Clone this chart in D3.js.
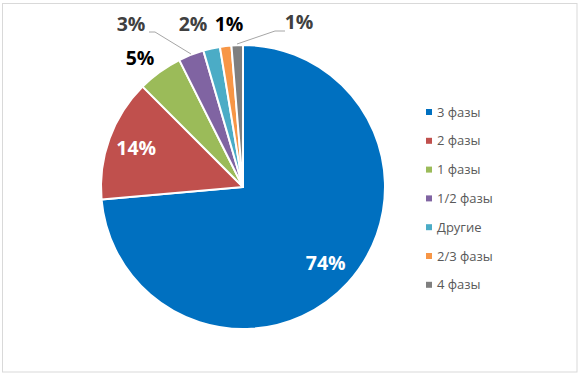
<!DOCTYPE html>
<html>
<head>
<meta charset="utf-8">
<script src="https://cdn.jsdelivr.net/npm/d3@7"></script>
<style>
  body { margin: 0; background: #fff; }
  text { font-family: "Open Sans", "Noto Sans", sans-serif; }
</style>
</head>
<body>
<div class="chart"></div>
<script>
// data
var categories = ["3 фазы", "2 фазы", "1 фазы", "1/2 фазы", "Другие", "2/3 фазы", "4 фазы"];
var values = [73.6, 13.9, 5.1, 2.9, 1.9, 1.3, 1.3];
var colors = ["#0070C0", "#C0504D", "#9BBB59", "#8064A2", "#4BACC6", "#F79646", "#7F7F7F"];

var width = 579, height = 375
    , cx = 243, cy = 187
    , radius = 142;

// where each label sits: inside (white), outside (dark), or moved by hand with a leader
var labelSpec = [
    { mode: "in", r: 0.79 },
    { mode: "in", r: 0.8 },
    { mode: "out", pos: [140, 58], fill: "#000" },
    { mode: "out", pos: [131, 24], fill: "#404040", leader: [[149, 32], [155, 32], [191, 54]] },
    { mode: "out", pos: [193, 24], fill: "#404040" },
    { mode: "out", pos: [229, 24], fill: "#000" },
    { mode: "out", pos: [299, 22], fill: "#404040", leader: [[237, 44], [275, 31], [285, 31]] }
];

var svg = d3.select(".chart").append("svg")
    .attr("width", width)
    .attr("height", height);

svg.append("rect")
    .attr("x", 2.5).attr("y", 3.5)
    .attr("width", 574.5).attr("height", 368.5)
    .attr("fill", "#fff")
    .attr("stroke", "#D9D9D9")
    .attr("stroke-width", 1);

var pie = d3.pie().sort(null).value(d => d);
var arcs = pie(values);

var arc = d3.arc().innerRadius(0).outerRadius(radius);

var g = svg.append("g").attr("transform", `translate(${cx},${cy})`);

g.selectAll("path.slice")
    .data(arcs)
    .enter().append("path")
    .attr("class", "slice")
    .attr("d", arc)
    .attr("fill", (d, i) => colors[i])
    .attr("stroke", "#fff")
    .attr("stroke-width", 2)
    .attr("stroke-linejoin", "round");

// leader lines
svg.selectAll("polyline.leader")
    .data(labelSpec.filter(s => s.leader))
    .enter().append("polyline")
    .attr("class", "leader")
    .attr("points", s => s.leader.map(p => p.join(",")).join(" "))
    .attr("fill", "none")
    .attr("stroke", "#A6A6A6")
    .attr("stroke-width", 1);

svg.selectAll("text.pct")
    .data(arcs)
    .enter().append("text")
    .attr("class", "pct")
    .attr("transform", (d, i) => {
        var s = labelSpec[i];
        if (s.mode === "in") {
            var a = d3.arc().innerRadius(radius * s.r).outerRadius(radius * s.r);
            var c = a.centroid(d);
            return `translate(${cx + c[0]},${cy + c[1]})`;
        }
        return `translate(${s.pos[0]},${s.pos[1]})`;
    })
    .attr("text-anchor", "middle")
    .attr("dy", "0.36em")
    .attr("font-size", 19.5)
    .attr("font-weight", "bold")
    .attr("fill", (d, i) => labelSpec[i].mode === "in" ? "#fff" : labelSpec[i].fill)
    .text(d => Math.round(d.value) + "%");

// legend
var legend = svg.append("g").attr("transform", "translate(426,112)");
var item = legend.selectAll("g")
    .data(categories)
    .enter().append("g")
    .attr("transform", (d, i) => `translate(0,${i * 28.8})`);

item.append("rect")
    .attr("x", 0).attr("y", -3)
    .attr("width", 6).attr("height", 6)
    .attr("fill", (d, i) => colors[i]);

item.append("text")
    .attr("x", 11)
    .attr("dy", "0.35em")
    .attr("font-size", 13)
    .attr("fill", "#595959")
    .text(d => d);
</script>
</body>
</html>
